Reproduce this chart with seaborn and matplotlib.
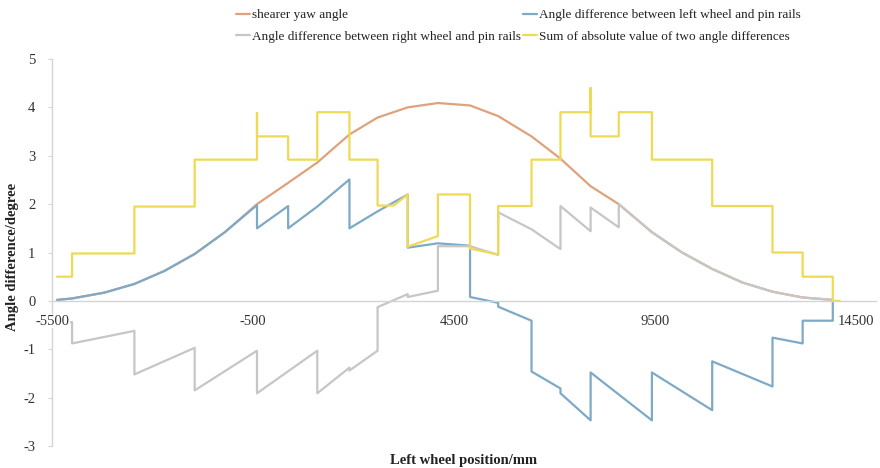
import matplotlib
matplotlib.use("Agg")
import matplotlib.pyplot as plt
from matplotlib.lines import Line2D
import numpy as np
import pandas as pd
import seaborn as sns

# Left wheel position (mm) and angles (degree) of the four series
yaw_x = [-5375, -5000, -4200, -3450, -2700, -1950, -1200, -400, 375, 1100,
         1900, 2600, 3350, 4100, 4900, 5600, 6430, 7150, 7900, 8600,
         9425, 10175, 10925, 11675, 12425, 13175, 13925]
yaw_y = [0.02, 0.05, 0.17, 0.35, 0.62, 0.97, 1.42, 2.0, 2.44, 2.86,
         3.44, 3.79, 4.0, 4.09, 4.04, 3.82, 3.4, 2.94, 2.37, 2.0,
         1.42, 1.0, 0.66, 0.38, 0.19, 0.07, 0.02]

left_x = [-5375, -5000, -4200, -3450, -2700, -1950, -1200, -400, -400, 375,
          375, 1100, 1900, 1900, 2600, 3350, 3350, 4100, 4900, 4900,
          5600, 5600, 6430, 6430, 7150, 7150, 7900, 7900, 9425, 9425,
          10925, 10925, 12425, 12425, 13175, 13175, 13925, 13925]
left_y = [0.02, 0.05, 0.17, 0.35, 0.62, 0.97, 1.42, 1.98, 1.5, 1.96,
          1.5, 1.95, 2.51, 1.5, 1.85, 2.2, 1.1, 1.19, 1.14, 0.08,
          -0.04, -0.12, -0.41, -1.46, -1.81, -1.91, -2.47, -1.48, -2.47, -1.48,
          -2.26, -1.25, -1.77, -0.76, -0.88, -0.41, -0.41, 0.0]

right_x = [-5375, -5000, -5000, -3450, -3450, -1950, -1950, -400, -400, 1100,
           1100, 1900, 1900, 2600, 2600, 3350, 3350, 4100, 4100, 4900,
           5600, 5600, 6430, 7150, 7150, 7900, 7900, 8600, 8600, 9425,
           10175, 10925, 11675, 12425, 13175, 13925]
right_y = [-0.46, -0.44, -0.88, -0.62, -1.52, -0.97, -1.85, -1.03, -1.91, -1.03,
           -1.91, -1.38, -1.44, -1.03, -0.13, 0.14, 0.08, 0.21, 1.13, 1.13,
           0.95, 1.83, 1.48, 1.07, 1.96, 1.44, 1.93, 1.52, 2.0, 1.42,
           1.0, 0.66, 0.38, 0.19, 0.07, 0.02]

sum_x = [-5375, -5000, -5000, -3450, -3450, -1950, -1950, -400, -400, -400,
         375, 375, 1100, 1100, 1900, 1900, 2600, 2600, 3000, 3350,
         3350, 4100, 4100, 4900, 4900, 5600, 5600, 6430, 6430, 7150,
         7150, 7900, 7900, 7900, 8600, 8600, 9425, 9425, 10925, 10925,
         12425, 12425, 13175, 13175, 13925, 13925, 14100]
sum_y = [0.5, 0.5, 0.98, 0.98, 1.95, 1.95, 2.92, 2.92, 3.88, 3.4,
         3.4, 2.92, 2.92, 3.9, 3.9, 2.92, 2.92, 1.97, 1.97, 2.2,
         1.12, 1.34, 2.2, 2.2, 1.08, 0.96, 1.96, 1.96, 2.92, 2.92,
         3.9, 3.9, 4.4, 3.4, 3.4, 3.9, 3.9, 2.92, 2.92, 1.96,
         1.96, 1.0, 1.0, 0.5, 0.5, 0.0, 0.0]

series_names = ["shearer yaw angle",
                "Angle difference between left wheel and pin rails",
                "Angle difference between right wheel and pin rails",
                "Sum of absolute value of two angle differences"]
series_colors = ["#DEA27C", "#7DAAC6", "#C6C6C6", "#EEDA55"]

x_ticks = [-5500, -500, 4500, 9500, 14500]
y_ticks = [-3, -2, -1, 0, 1, 2, 3, 4, 5]

frames = []
for name, xs, ys in zip(series_names,
                        [yaw_x, left_x, right_x, sum_x],
                        [yaw_y, left_y, right_y, sum_y]):
    frames.append(pd.DataFrame({"series": name, "pos": xs, "angle": ys}))
df = pd.concat(frames, ignore_index=True)

sns.set_theme(style="white")
plt.rcParams["font.family"] = ["Liberation Serif", "DejaVu Serif"]

fig = plt.figure(figsize=(8.8, 4.68), dpi=100)
ax = fig.add_axes([52 / 880, 22 / 468, 824 / 880, 387 / 468])

sns.lineplot(data=df, x="pos", y="angle", hue="series", hue_order=series_names,
             palette=series_colors, sort=False, estimator=None, linewidth=1.6,
             legend=False, ax=ax)

ax.set_xlim(-5500, 15000)
ax.set_ylim(-3, 5)
ax.set_xticks(x_ticks)
ax.set_yticks(y_ticks)
ax.set_xticklabels([str(v) for v in x_ticks])
ax.set_yticklabels([str(v) for v in y_ticks])

axis_grey = "#D4D4D4"
for side in ["top", "right"]:
    ax.spines[side].set_visible(False)
ax.spines["bottom"].set_position(("data", 0))
ax.spines["bottom"].set_color(axis_grey)
ax.spines["left"].set_color(axis_grey)
ax.spines["bottom"].set_linewidth(1.0)
ax.spines["left"].set_linewidth(1.0)
ax.set_axisbelow(False)

ax.tick_params(axis="x", direction="inout", length=4, width=0.8, color=axis_grey,
               labelsize=10.5, labelcolor="#333333", pad=8)
ax.tick_params(axis="y", direction="out", length=3, width=0.8, color=axis_grey,
               labelsize=10.5, labelcolor="#333333", pad=9, left=True)
for lab in ax.get_xticklabels():
    lab.set_bbox(dict(facecolor="white", edgecolor="none", pad=0.5))

ax.set_xlabel("Left wheel position/mm", fontsize=10.5, fontweight="bold", color="#222222")
ax.xaxis.set_label_coords(0.5, -0.02)
ax.xaxis.label.set_va("top")
ax.set_ylabel("Angle difference/degree", fontsize=10.5, fontweight="bold", color="#222222")
ax.yaxis.set_label_coords(-0.040, 0.488)

handles = [Line2D([0], [0], color=c, lw=1.6) for c in series_colors]
order = [0, 2, 1, 3]
fig.legend([handles[i] for i in order], [series_names[i] for i in order],
           ncol=2, loc="upper center", bbox_to_anchor=(0.589, 1.0),
           frameon=False, fontsize=9.5, handlelength=1.1, handletextpad=0.15,
           columnspacing=0.1, labelspacing=0.7, borderpad=0.2,
           labelcolor="#222222")

fig.savefig("out.png", dpi=100, facecolor="white")
